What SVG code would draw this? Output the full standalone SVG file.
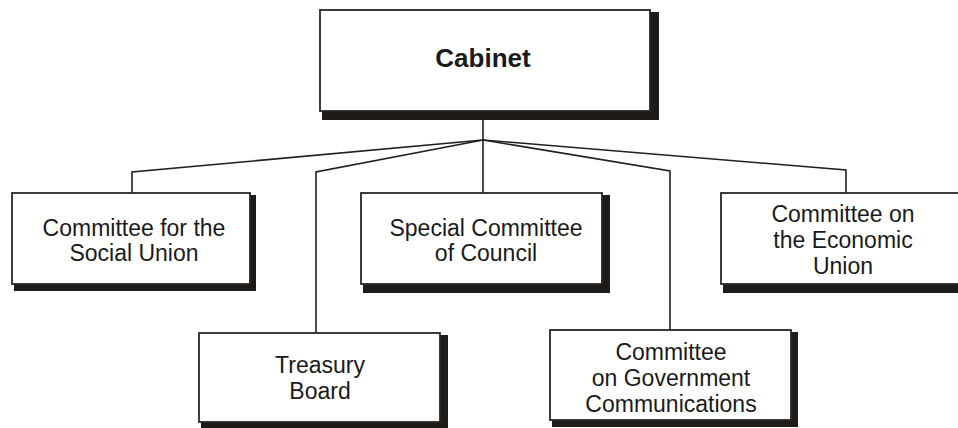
<svg xmlns="http://www.w3.org/2000/svg" width="958" height="428" viewBox="0 0 958 428">
  <style>
    .shadow { fill: #1f1b18; }
    .box { fill: #ffffff; stroke: #2a2623; stroke-width: 1.8; }
    .label { font-family: "Liberation Sans", Arial, sans-serif; font-size: 23px; fill: #1a1a1a; text-anchor: middle; }
    .title { font-family: "Liberation Sans", Arial, sans-serif; font-size: 26px; font-weight: bold; fill: #1a1a1a; text-anchor: middle; }
    .conn { fill: none; stroke: #231f1c; stroke-width: 1.6; }
  </style>
  <rect width="958" height="428" fill="#ffffff"/>

  <!-- connectors from Cabinet to its committees -->
  <g id="connectors">
    <polyline class="conn" points="483,110 483,193"/>
    <polyline class="conn" points="483,140 132,172 132,193"/>
    <polyline class="conn" points="483,140 316,172 316,333"/>
    <polyline class="conn" points="483,140 670,171 670,330"/>
    <polyline class="conn" points="483,140 846,170 846,193"/>
  </g>

  <g id="cabinet">
    <rect class="shadow" x="322" y="12" width="337" height="108"/>
    <rect class="box" x="320" y="10" width="330" height="101"/>
    <text class="title" x="483" y="67">Cabinet</text>
  </g>

  <g id="social-union">
    <rect class="shadow" x="14" y="195" width="242" height="96"/>
    <rect class="box" x="12" y="193" width="238" height="91"/>
    <text class="label" x="134" y="236">Committee for the</text>
    <text class="label" x="134" y="261">Social Union</text>
  </g>

  <g id="special-committee">
    <rect class="shadow" x="363" y="195" width="247" height="98"/>
    <rect class="box" x="361" y="193" width="241" height="91"/>
    <text class="label" x="486" y="236">Special Committee</text>
    <text class="label" x="486" y="261">of Council</text>
  </g>

  <g id="economic-union">
    <rect class="shadow" x="723" y="195" width="250" height="98"/>
    <rect class="box" x="721" y="193" width="250" height="91"/>
    <text class="label" x="843" y="222">Committee on</text>
    <text class="label" x="843" y="248">the Economic</text>
    <text class="label" x="843" y="274">Union</text>
  </g>

  <g id="treasury-board">
    <rect class="shadow" x="201" y="335" width="247" height="93"/>
    <rect class="box" x="199" y="333" width="241" height="89"/>
    <text class="label" x="320" y="373">Treasury</text>
    <text class="label" x="320" y="399">Board</text>
  </g>

  <g id="government-communications">
    <rect class="shadow" x="552" y="332" width="246" height="95"/>
    <rect class="box" x="550" y="330" width="241" height="90"/>
    <text class="label" x="671" y="360">Committee</text>
    <text class="label" x="671" y="386">on Government</text>
    <text class="label" x="671" y="412">Communications</text>
  </g>
</svg>
